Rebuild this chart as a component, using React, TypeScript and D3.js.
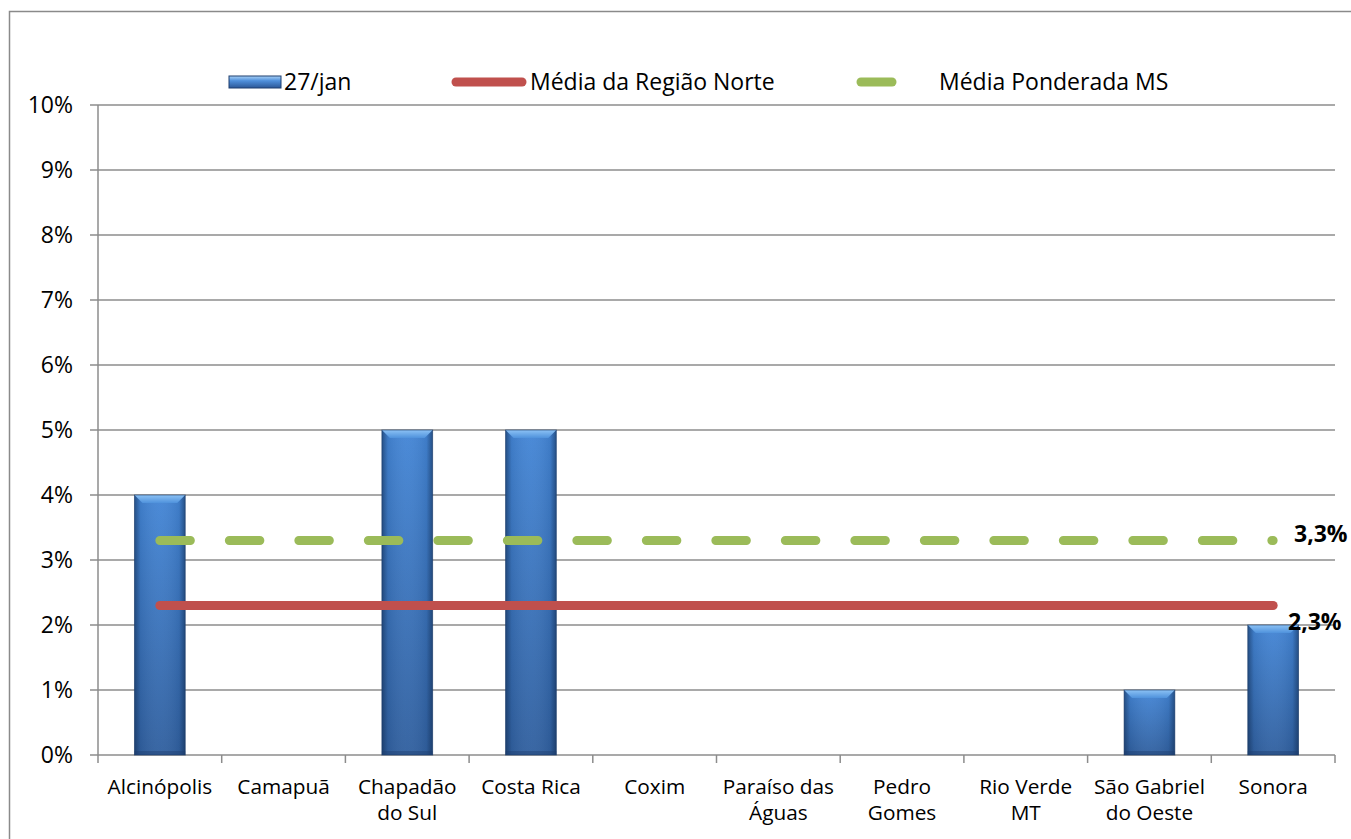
import React from "react";
import * as d3 from "d3";

const categories: string[][] = [
  ["Alcinópolis"],
  ["Camapuã"],
  ["Chapadão", "do Sul"],
  ["Costa Rica"],
  ["Coxim"],
  ["Paraíso das", "Águas"],
  ["Pedro", "Gomes"],
  ["Rio Verde", "MT"],
  ["São Gabriel", "do Oeste"],
  ["Sonora"],
];
const values: number[] = [4, 0, 5, 5, 0, 0, 0, 0, 1, 2];
const mediaRegiaoNorte = 2.3;
const mediaPonderadaMS = 3.3;
const yTicks: number[] = [0, 1, 2, 3, 4, 5, 6, 7, 8, 9, 10];

const W = 1351;
const H = 839;
const FONT = "'Open Sans', Lato, sans-serif";

export default function App() {
  const left = 98;
  const right = 1335;
  const top = 105;
  const bottom = 755;

  const keys = categories.map((_, i) => String(i));
  const x = d3.scaleBand<string>().domain(keys).range([left, right]).paddingInner(0).paddingOuter(0);
  const y = d3.scaleLinear().domain([0, 10]).range([bottom, top]);
  const bw = x.bandwidth() * 0.41;
  const cx = (i: number) => (x(String(i)) as number) + x.bandwidth() / 2;

  const firstX = cx(0);
  const lastX = cx(categories.length - 1);
  const redLine = d3.line<number>().x((d) => d).y(() => y(mediaRegiaoNorte));
  const greenLine = d3.line<number>().x((d) => d).y(() => y(mediaPonderadaMS));

  const grid = "#8c8c8c";
  const pct = (v: number) => `${v}%`;
  const fmt = (v: number) => `${v.toFixed(1).replace(".", ",")}%`;

  const bevel = 8;

  return (
    <svg width={W} height={H} style={{ position: "absolute", left: 0, top: 0, display: "block" }}>
      <defs>
        <linearGradient id="barV" x1="0" y1="0" x2="0" y2="1">
          <stop offset="0" stopColor="#4486d6" />
          <stop offset="1" stopColor="#31609f" />
        </linearGradient>
        <linearGradient id="barH" x1="0" y1="0" x2="1" y2="0">
          <stop offset="0" stopColor="#0d2547" stopOpacity="0.55" />
          <stop offset="0.12" stopColor="#0d2547" stopOpacity="0.1" />
          <stop offset="0.5" stopColor="#ffffff" stopOpacity="0.04" />
          <stop offset="0.88" stopColor="#0d2547" stopOpacity="0.1" />
          <stop offset="1" stopColor="#0d2547" stopOpacity="0.55" />
        </linearGradient>
        <linearGradient id="bevelTop" x1="0" y1="0" x2="0" y2="1">
          <stop offset="0" stopColor="#8cc2f5" />
          <stop offset="1" stopColor="#4f92dc" />
        </linearGradient>
        <linearGradient id="legendBar" x1="0" y1="0" x2="0" y2="1">
          <stop offset="0" stopColor="#a9d2f7" />
          <stop offset="0.4" stopColor="#4f8fdb" />
          <stop offset="1" stopColor="#2b5796" />
        </linearGradient>
      </defs>

      <rect x={0} y={0} width={W} height={H} fill="#ffffff" />
      {/* outer chart frame */}
      <rect x={9.5} y={11.5} width={W + 20} height={H + 20} fill="none" stroke="#8a8a8a" strokeWidth={1.5} />

      {/* horizontal gridlines and y labels */}
      {yTicks.map((t) => (
        <g key={t}>
          <line x1={left - 8} x2={right} y1={y(t)} y2={y(t)} stroke={grid} strokeWidth={1.5} />
          <text x={73} y={y(t)} dy="0.36em" textAnchor="end" fontFamily={FONT} fontSize={23} fill="#000">
            {pct(t)}
          </text>
        </g>
      ))}
      {/* y axis */}
      <line x1={left} x2={left} y1={top} y2={bottom} stroke={grid} strokeWidth={1.5} />
      {/* x ticks */}
      {d3.range(categories.length + 1).map((i) => {
        const xx = left + i * x.bandwidth();
        return <line key={i} x1={xx} x2={xx} y1={bottom} y2={bottom + 8} stroke={grid} strokeWidth={1.5} />;
      })}

      {/* bars */}
      {values.map((v, i) => {
        if (v <= 0) return null;
        const x0 = cx(i) - bw / 2;
        const y0 = y(v);
        const h = bottom - y0;
        return (
          <g key={i}>
            <rect x={x0} y={y0} width={bw} height={h} fill="url(#barV)" />
            <rect x={x0} y={y0} width={bw} height={h} fill="url(#barH)" />
            <path
              d={`M${x0},${y0}L${x0 + bw},${y0}L${x0 + bw - bevel},${y0 + bevel}L${x0 + bevel},${y0 + bevel}Z`}
              fill="url(#bevelTop)"
            />
            <rect x={x0} y={bottom - 4} width={bw} height={4} fill="#1f3f6e" opacity={0.45} />
            <rect x={x0} y={y0} width={bw} height={h} fill="none" stroke="#1c3a66" strokeOpacity={0.6} strokeWidth={1} />
          </g>
        );
      })}

      {/* averages */}
      <path
        d={greenLine([firstX, lastX]) as string}
        stroke="#9bbb59"
        strokeWidth={9}
        strokeLinecap="round"
        strokeDasharray="30.5 39"
        fill="none"
      />
      <path
        d={redLine([firstX, lastX]) as string}
        stroke="#c0504d"
        strokeWidth={9}
        strokeLinecap="round"
        fill="none"
      />
      <text x={1294} y={y(mediaPonderadaMS) - 7} dy="0.36em" fontFamily={FONT} fontWeight="bold" fontSize={23} fill="#000">
        {fmt(mediaPonderadaMS)}
      </text>
      <text x={1288} y={y(mediaRegiaoNorte) + 16} dy="0.36em" fontFamily={FONT} fontWeight="bold" fontSize={23} fill="#000">
        {fmt(mediaRegiaoNorte)}
      </text>

      {/* category labels */}
      {categories.map((lines, i) => (
        <text key={i} x={cx(i)} y={787} textAnchor="middle" fontFamily={FONT} fontSize={20.8} fill="#000">
          {lines.map((l, j) => (
            <tspan key={j} x={cx(i)} dy={j === 0 ? "0.36em" : 26}>
              {l}
            </tspan>
          ))}
        </text>
      ))}

      {/* legend */}
      <g fontFamily={FONT} fontSize={23} fill="#000">
        <rect x={229} y={76} width={52} height={12} fill="url(#legendBar)" stroke="#1f3f6e" strokeWidth={1} />
        <text x={284} y={82} dy="0.36em">27/jan</text>
        <line x1={456} x2={522} y1={82} y2={82} stroke="#c0504d" strokeWidth={9} strokeLinecap="round" />
        <text x={530} y={82} dy="0.36em">Média da Região Norte</text>
        <line x1={861} x2={892} y1={82} y2={82} stroke="#9bbb59" strokeWidth={9} strokeLinecap="round" />
        <text x={939} y={82} dy="0.36em">Média Ponderada MS</text>
      </g>
    </svg>
  );
}
